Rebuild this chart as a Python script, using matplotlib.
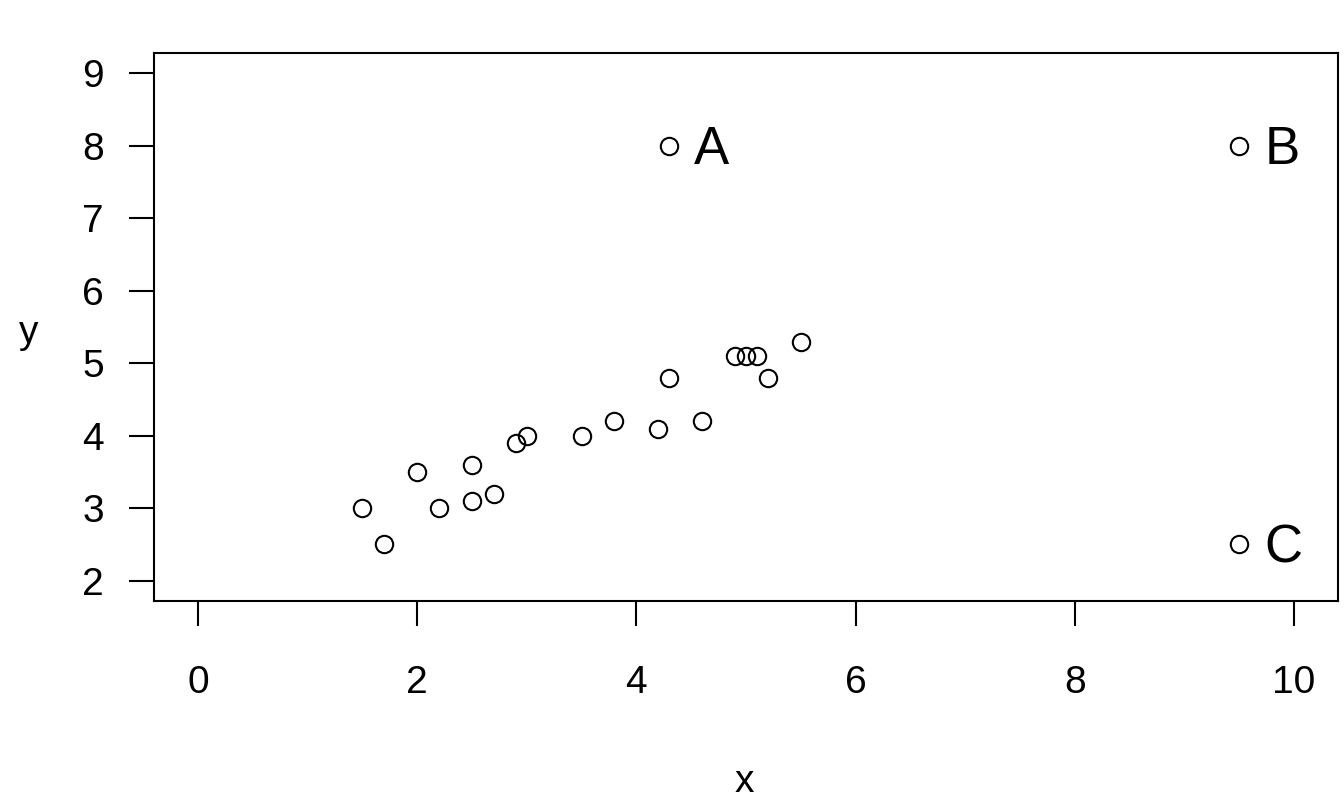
import numpy as np
import matplotlib.pyplot as plt

plt.rcParams['font.family'] = ['Liberation Sans', 'DejaVu Sans']

x = [1.5, 1.7, 2.0, 2.2, 2.5, 2.5, 2.7, 2.9, 3.0, 3.5, 3.8, 4.2, 4.3, 4.6,
     4.9, 5.0, 5.1, 5.2, 5.5]
y = [3.0, 2.5, 3.5, 3.0, 3.6, 3.1, 3.2, 3.9, 4.0, 4.0, 4.2, 4.1, 4.8, 4.2,
     5.1, 5.1, 5.1, 4.8, 5.3]

# outlying points and their labels
ox = [4.3, 9.5, 9.5]
oy = [8.0, 8.0, 2.5]
olab = ['A', 'B', 'C']

fig = plt.figure(figsize=(13.44, 8.06), dpi=100)
ax = fig.add_axes([0.1146, 0.2543, 0.8809, 0.6799])

allx = x + ox
ally = y + oy
ax.plot(allx, ally, 'o', mfc='none', mec='black', ms=12.5, mew=1.5)
for xi, yi, s in zip(ox, oy, olab):
    ax.annotate(s, (xi, yi), xytext=(18, -3), textcoords='offset points',
                ha='left', va='center', fontsize=38)

ax.set_xlim(-0.4, 10.4)
ax.set_ylim(1.72, 9.28)
ax.set_xticks(np.arange(0, 11, 2))
ax.set_yticks(np.arange(2, 10, 1))
for sp in ax.spines.values():
    sp.set_linewidth(1.5)
ax.tick_params(axis='both', length=18, width=1.5, labelsize=28)
ax.tick_params(axis='x', pad=28)
ax.tick_params(axis='y', pad=18)

ax.set_xlabel('x', fontsize=28)
ax.set_ylabel('y', fontsize=28, rotation=0, va='center', ha='center')
ax.xaxis.set_label_coords(0.499, -0.330)
ax.yaxis.set_label_coords(-0.106, 0.489)
ax.xaxis.label.set_va('center')

fig.savefig('out.png', dpi=100)
